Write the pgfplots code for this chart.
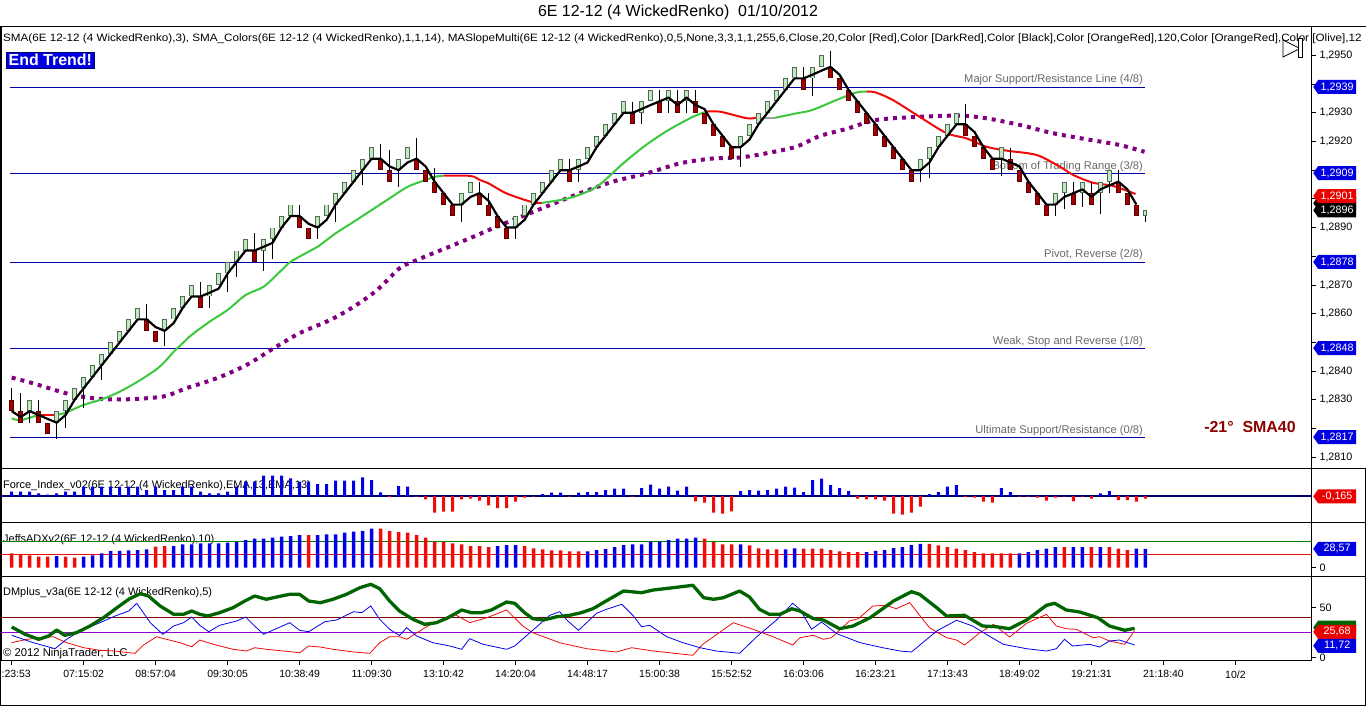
\documentclass[border=0pt]{standalone}
\usepackage{fontspec}
\setmainfont{Liberation Sans}
\usepackage{pgfplots}
\pgfplotsset{compat=1.18}
\usetikzlibrary{shapes.symbols}
\definecolor{navyl}{RGB}{0,0,170}
\definecolor{navyz}{RGB}{0,0,110}
\definecolor{candG}{RGB}{195,230,195}
\definecolor{candGo}{RGB}{80,110,80}
\definecolor{candR}{RGB}{165,0,0}
\definecolor{candRo}{RGB}{90,0,0}
\definecolor{smaG}{RGB}{60,200,60}
\definecolor{smaR}{RGB}{240,10,10}
\definecolor{smaY}{RGB}{160,160,160}
\definecolor{purp}{RGB}{128,0,128}
\definecolor{fblue}{RGB}{0,0,235}
\definecolor{fred}{RGB}{240,10,10}
\definecolor{dmgreen}{RGB}{0,100,0}
\definecolor{tagblue}{RGB}{0,0,225}
\definecolor{tagred}{RGB}{235,0,0}
\definecolor{dkred}{RGB}{140,0,0}
\definecolor{labgray}{RGB}{105,105,105}
\definecolor{lvl40}{RGB}{128,0,0}
\definecolor{lvl25}{RGB}{150,0,210}
\definecolor{adxg}{RGB}{0,128,0}
\pgfplotsset{
  panel/.style={scale only axis, width=1310bp, xmin=-1.19, xmax=144.4,
    axis line style={line width=1bp}, xtick=\empty, clip=true,
    ytick pos=right, yticklabel pos=right, tick align=outside,
    major tick length=5bp, tick style={black, line width=0.8bp},
    ticklabel style={font=\fontsize{10.8}{12}\selectfont},
    /pgf/number format/assume math mode=true, anchor=north west},
  brick/.style={draw=none, mark=none, forget plot, error bars/y dir=both, error bars/error mark=none},
}
\tikzset{
  tag/.style={signal, signal to=west, signal pointer angle=110, text=white,
    font=\fontsize{10.8}{12}\selectfont, inner xsep=2bp, inner ysep=1bp,
    minimum height=14bp, minimum width=43bp, anchor=west},
}
\begin{document}
\begin{tikzpicture}
\useasboundingbox (0,0) rectangle (1366bp,-706bp);
\fill[white] (0,0) rectangle (1366bp,-706bp);
% texts behind panels
\node[font=\fontsize{16}{18}\selectfont, inner sep=0] at (678bp,-12bp) {6E 12-12 (4 WickedRenko)\ \ 01/10/2012};
\node[anchor=west, font=\fontsize{10.7}{12}\selectfont, inner sep=0] at (3bp,-38.5bp) {\scalebox{1.094}[1]{SMA(6E 12-12 (4 WickedRenko),3), SMA\_Colors(6E 12-12 (4 WickedRenko),1,1,14), MASlopeMulti(6E 12-12 (4 WickedRenko),0,5,None,3,3,1,1,255,6,Close,20,Color [Red],Color [DarkRed],Color [Black],Color [OrangeRed],120,Color [OrangeRed],Color [Olive],12}};
\node[anchor=west, font=\fontsize{11}{12}\selectfont, inner sep=0] at (3bp,-486bp) {Force\_Index\_v02(6E 12-12 (4 WickedRenko),EMA,13,EMA,13)};
\node[anchor=west, font=\fontsize{11}{12}\selectfont, inner sep=0] at (3bp,-540bp) {JeffsADXv2(6E 12-12 (4 WickedRenko),10)};
\node[anchor=west, font=\fontsize{11}{12}\selectfont, inner sep=0] at (3bp,-593bp) {DMplus\_v3a(6E 12-12 (4 WickedRenko),5)};
\node[anchor=west, font=\fontsize{11.3}{12}\selectfont, inner sep=0] at (3bp,-654bp) {\textcopyright\ 2012 NinjaTrader, LLC};

% ================= MAIN PRICE PANEL =================
\begin{axis}[panel, at={(1bp,-26bp)}, height=442bp, ymin=1.28062, ymax=1.296025,
  ytick={1.281,1.282,1.283,1.284,1.285,1.286,1.287,1.288,1.289,1.290,1.291,1.292,1.293,1.294,1.295},
  yticklabels={1{,}2810,,1{,}2830,1{,}2840,,1{,}2860,1{,}2870,,1{,}2890,,,1{,}2920,1{,}2930,,1{,}2950}]
\addplot[navyl, line width=0.9bp] coordinates {(-0.2,1.2939)(125.9,1.2939)};
\addplot[navyl, line width=0.9bp] coordinates {(-0.2,1.2909)(125.9,1.2909)};
\addplot[navyl, line width=0.9bp] coordinates {(-0.2,1.2878)(125.9,1.2878)};
\addplot[navyl, line width=0.9bp] coordinates {(-0.2,1.2848)(125.9,1.2848)};
\addplot[navyl, line width=0.9bp] coordinates {(-0.2,1.2817)(125.9,1.2817)};
\node[anchor=south east, text=labgray, font=\fontsize{11.2}{12}\selectfont, inner sep=1.5bp] at (axis cs:125.9,1.2939) {Major Support/Resistance Line (4/8)};
\node[anchor=south east, text=labgray, font=\fontsize{11.2}{12}\selectfont, inner sep=1.5bp] at (axis cs:125.9,1.2909) {Bottom of Trading Range (3/8)};
\node[anchor=south east, text=labgray, font=\fontsize{11.2}{12}\selectfont, inner sep=1.5bp] at (axis cs:125.9,1.2878) {Pivot, Reverse (2/8)};
\node[anchor=south east, text=labgray, font=\fontsize{11.2}{12}\selectfont, inner sep=1.5bp] at (axis cs:125.9,1.2848) {Weak, Stop and Reverse (1/8)};
\node[anchor=south east, text=labgray, font=\fontsize{11.2}{12}\selectfont, inner sep=1.5bp] at (axis cs:125.9,1.2817) {Ultimate Support/Resistance (0/8)};
\addplot[purp, line width=4bp, dash pattern=on 4bp off 5bp, smooth] coordinates {
(0,1.28377)(2.4,1.28357)(6.1,1.28322)(9.1,1.28305)(12.4,1.28301)(16.8,1.28311)(19.4,1.2834)(22.8,1.28375)(26.1,1.28421)(29.1,1.28479)(32,1.28532)(35.4,1.28578)(38,1.28624)(40.6,1.28682)(43.1,1.28758)(44.6,1.28781)(46.8,1.2881)(49.1,1.28839)(51.3,1.28868)(53.9,1.28903)(55.7,1.28926)(59.4,1.28973)(63.1,1.29019)(66.8,1.2906)(70.6,1.29089)(74.3,1.29124)(78,1.29141)(80.9,1.29144)(83.9,1.29159)(87.2,1.29182)(89.8,1.29219)(92.8,1.29244)(96.1,1.29275)(100.9,1.29286)(105.4,1.2929)(108.3,1.29281)(112,1.29258)(115.7,1.29229)(119.4,1.29208)(123.1,1.29188)(125.9,1.29164)};
\addplot[smaG, line width=2bp, smooth] coordinates {(0,1.28235)(1,1.28229)(3,1.28247)};
\addplot[smaR, line width=2bp] coordinates {(3,1.28247)(5,1.28247)};
\addplot[smaG, line width=2bp, smooth] coordinates {(5,1.28247)(6,1.28255)(8,1.28282)(10,1.28301)(12,1.28328)(14,1.28363)(16,1.28404)(17,1.28432)(18,1.28467)(19,1.28497)(20,1.28526)(22,1.28572)(24,1.28613)(26,1.28665)(28,1.28694)(30,1.28752)(31,1.28781)(33,1.28816)(34,1.28833)(36,1.2888)(38,1.2892)(40,1.28961)(42,1.29002)(44,1.29042)(46,1.29066)(47,1.29077)(48,1.29081)};
\addplot[smaR, line width=2bp, smooth] coordinates {(48,1.29081)(51,1.2908)(52,1.29066)(53,1.29054)(55,1.29019)(58,1.28987)(58.9,1.28986)};
\addplot[smaG, line width=2bp, smooth] coordinates {(58.9,1.28986)(62,1.29003)(65,1.29042)(68,1.29125)(70.5,1.29188)(73,1.2924)(75.7,1.29286)(77.2,1.29304)};
\addplot[smaR, line width=2bp, smooth] coordinates {(77.2,1.29304)(78.7,1.29304)(81.7,1.29281)(82.7,1.29283)};
\addplot[smaY, line width=2bp] coordinates {(82.7,1.29283)(84.9,1.29283)};
\addplot[smaG, line width=2bp, smooth] coordinates {(84.9,1.29283)(87.2,1.29298)(89,1.2931)(92,1.29349)(93.9,1.29371)(95,1.29374)};
\addplot[smaR, line width=2bp, smooth] coordinates {(95,1.29374)(96,1.29371)(97.9,1.29345)(100.9,1.29286)(103.9,1.29229)(106.1,1.29211)(108.3,1.29182)(110.6,1.29168)(113.9,1.29153)(116.5,1.29112)(118,1.29083)(120.2,1.29056)(122.4,1.29045)(124.9,1.29017)};
% wicks
\addplot[draw=none, mark=none, forget plot, error bars/y dir=plus, error bars/y explicit, error bars/error mark=none, error bars/error bar style={line width=1bp, draw=black}] table[x=x, y=lo, y error=dy] {
x lo dy
0 1.2826 0.0008
1 1.2822 0.00104
2 1.2822 0.0008
3 1.2822 0.0008
5 1.28164 0.00096
6 1.2820 0.0010
8 1.28272 0.00108
10 1.28368 0.00092
15 1.2854 0.00092
17 1.28488 0.00092
21 1.2862 0.00092
22 1.2862 0.0008
24 1.28676 0.00104
25 1.28728 0.00092
27 1.2878 0.0010
28 1.28748 0.00112
29 1.28792 0.00108
32 1.2890 0.0008
34 1.2886 0.0008
36 1.2892 0.0010
39 1.29048 0.00092
41 1.2910 0.00092
42 1.2906 0.00112
43 1.2904 0.0010
45 1.2910 0.00112
47 1.2902 0.00088
50 1.2892 0.0010
52 1.2898 0.0008
53 1.2894 0.0008
56 1.2886 0.0008
62 1.2906 0.0008
63 1.2906 0.0008
69 1.2926 0.00076
70 1.2926 0.0008
72 1.2930 0.0008
73 1.2930 0.0008
74 1.2930 0.0008
75 1.2930 0.0008
76 1.2930 0.0008
81 1.29112 0.00108
88 1.2938 0.0008
89 1.2936 0.0010
91 1.2942 0.00096
101 1.2906 0.0008
102 1.29072 0.00108
106 1.2922 0.00112
110 1.2908 0.0010
111 1.2910 0.00076
116 1.2894 0.0008
117 1.28964 0.00096
118 1.2898 0.0008
119 1.28972 0.00088
120 1.2898 0.0008
121 1.28948 0.00112
122 1.2902 0.0008
123 1.2902 0.0008
126 1.2892 0.0004
};
\pgfplotstableread{
x mid
2 1.2828
5 1.2824
6 1.2828
7 1.2832
8 1.2836
9 1.2840
10 1.2844
11 1.2848
12 1.2852
13 1.2856
14 1.2860
17 1.2856
18 1.2860
19 1.2864
20 1.2868
22 1.2868
23 1.2872
24 1.2876
25 1.2880
26 1.2884
28 1.2884
29 1.2888
30 1.2892
31 1.2896
34 1.2892
35 1.2896
36 1.2900
37 1.2904
38 1.2908
39 1.2912
40 1.2916
43 1.2912
44 1.2916
50 1.2900
51 1.2904
56 1.2892
57 1.2896
58 1.2900
59 1.2904
60 1.2908
61 1.2912
63 1.2912
64 1.2916
65 1.2920
66 1.2924
67 1.2928
68 1.2932
70 1.2932
71 1.2936
73 1.2936
75 1.2936
81 1.2920
82 1.2924
83 1.2928
84 1.2932
85 1.2936
86 1.2940
87 1.2944
89 1.2944
90 1.2948
101 1.2912
102 1.2916
103 1.2920
104 1.2924
105 1.2928
110 1.2916
116 1.2900
117 1.2904
119 1.2904
121 1.2904
122 1.2908
}\greenbricks
\pgfplotstableread{
x mid
0 1.2828
1 1.2824
3 1.2824
4 1.2820
15 1.2856
16 1.2852
21 1.2864
27 1.2880
32 1.2892
33 1.2888
41 1.2912
42 1.2908
45 1.2912
46 1.2908
47 1.2904
48 1.2900
49 1.2896
52 1.2900
53 1.2896
54 1.2892
55 1.2888
62 1.2908
69 1.2928
72 1.2932
74 1.2932
76 1.2932
77 1.2928
78 1.2924
79 1.2920
80 1.2916
88 1.2940
91 1.2944
92 1.2940
93 1.2936
94 1.2932
95 1.2928
96 1.2924
97 1.2920
98 1.2916
99 1.2912
100 1.2908
106 1.2924
107 1.2920
108 1.2916
109 1.2912
111 1.2912
112 1.2908
113 1.2904
114 1.2900
115 1.2896
118 1.2900
120 1.2900
123 1.2904
124 1.2900
125 1.2896
}\redbricks
\addplot[brick, error bars/y fixed=0.0002, error bars/error bar style={line width=5bp, draw=candGo}] table[x=x,y=mid] {\greenbricks};
\addplot[brick, error bars/y fixed=0.00017, error bars/error bar style={line width=3bp, draw=candG}] table[x=x,y=mid] {\greenbricks};
\addplot[brick, error bars/y fixed=0.0002, error bars/error bar style={line width=5bp, draw=candRo}] table[x=x,y=mid] {\redbricks};
\addplot[brick, error bars/y fixed=0.00017, error bars/error bar style={line width=3bp, draw=candR}] table[x=x,y=mid] {\redbricks};
\addplot[brick, error bars/y fixed=0.0001, error bars/error bar style={line width=4bp, draw=candGo}] coordinates {(126,1.2895)};
\addplot[brick, error bars/y fixed=0.00007, error bars/error bar style={line width=2bp, draw=candG}] coordinates {(126,1.2895)};
\addplot[black, line width=2.2bp, line join=round] coordinates {
(0,1.2826)(1,1.2824)(2,1.2826)(3,1.28247)(4,1.28233)(5,1.2822)(6,1.28247)(7,1.2830)(8,1.2834)(9,1.2838)
(10,1.2842)(11,1.2846)(12,1.2850)(13,1.2854)(14,1.2858)(15,1.2858)(16,1.28553)(17,1.2854)(18,1.28567)(19,1.2862)
(20,1.2866)(21,1.2866)(22,1.28673)(23,1.28687)(24,1.2874)(25,1.2878)(26,1.2882)(27,1.2882)(28,1.28833)(29,1.28847)
(30,1.2890)(31,1.2894)(32,1.2894)(33,1.28913)(34,1.2890)(35,1.28927)(36,1.2898)(37,1.2902)(38,1.2906)(39,1.2910)
(40,1.2914)(41,1.2914)(42,1.29113)(43,1.2910)(44,1.29127)(45,1.2914)(46,1.29113)(47,1.2906)(48,1.2902)(49,1.2898)
(50,1.2898)(51,1.29007)(52,1.2902)(53,1.28993)(54,1.2894)(55,1.2890)(56,1.2890)(57,1.28927)(58,1.2898)(59,1.2902)
(60,1.2906)(61,1.2910)(62,1.2910)(63,1.29113)(64,1.29127)(65,1.2918)(66,1.2922)(67,1.2926)(68,1.2930)(69,1.2930)
(70,1.29313)(71,1.29327)(72,1.2934)(73,1.29353)(74,1.29327)(75,1.29353)(76,1.29327)(77,1.29313)(78,1.2926)(79,1.2922)
(80,1.2918)(81,1.2918)(82,1.29207)(83,1.2926)(84,1.2930)(85,1.2934)(86,1.2938)(87,1.2942)(88,1.2942)(89,1.29433)
(90,1.29447)(91,1.2946)(92,1.29433)(93,1.2938)(94,1.2934)(95,1.2930)(96,1.2926)(97,1.2922)(98,1.2918)(99,1.2914)
(100,1.2910)(101,1.2910)(102,1.29127)(103,1.2918)(104,1.2922)(105,1.2926)(106,1.2926)(107,1.29233)(108,1.2918)(109,1.2914)
(110,1.2914)(111,1.29127)(112,1.29113)(113,1.2906)(114,1.2902)(115,1.2898)(116,1.2898)(117,1.29007)(118,1.2902)(119,1.29033)
(120,1.29007)(121,1.29033)(122,1.29047)(123,1.2906)(124,1.29033)(125,1.2898)};
\coordinate (t1) at (axis cs:144.4,1.2939);
\coordinate (t2) at (axis cs:144.4,1.2909);
\coordinate (t3) at (axis cs:144.4,1.2878);
\coordinate (t4) at (axis cs:144.4,1.2848);
\coordinate (t5) at (axis cs:144.4,1.2817);
\coordinate (t6) at (axis cs:144.4,1.2901);
\coordinate (t7) at (axis cs:144.4,1.2896);
\coordinate (t8) at (axis cs:144.4,1.28985);
\end{axis}

% ================= FORCE INDEX =================
\begin{axis}[panel, at={(1bp,-468bp)}, height=54bp, ymin=-26, ymax=28, ytick=\empty]
\addplot[navyz, line width=2.6bp] coordinates {(-1.19,0)(144.4,0)};
\addplot[ybar, bar shift=0pt, bar width=3bp, fill=fblue, draw=none] coordinates {
(0,4.3)(1,4.3)(2,4.3)(3,2.7)(4,1.5)(5,2.7)(6,4.3)(7,4.3)(8,9.3)(9,9.3)(10,9.3)(11,9.3)(12,9.3)(13,9.3)(14,9.3)(15,6)(16,9.3)(17,6)(18,6)(19,9.3)(20,9.3)(21,4.3)(22,2.7)(23,2.7)(24,4.3)(25,9.3)(26,14.3)(27,14.3)(28,20.3)(29,20.3)(30,20.3)(31,17.7)(32,14.3)(33,14.3)(34,12)(35,12)(36,15.3)(37,15.3)(38,15.3)(39,18.7)(40,16)(41,3.7)(43,10)(44,9.3)(59,2)(60,3.3)(61,3.3)(63,3.3)(64,4)(65,4)(66,6)(67,7.3)(68,7.3)(70,8)(71,11.3)(72,7.3)(73,9.3)(74,5.3)(75,9.3)(81,5)(82,6)(83,5.3)(84,6)(85,7.3)(86,9.3)(87,8.3)(88,4)(89,16)(90,17.3)(91,11)(92,8)(93,5)(102,2)(103,4)(104,9.3)(105,11)(110,8)(111,4)(121,2.7)(122,5)};
\addplot[ybar, bar shift=0pt, bar width=3bp, fill=fred, draw=none] coordinates {
(42,-1)(45,-0.7)(46,-3.3)(47,-16.7)(48,-15.7)(49,-15.7)(50,-3.3)(51,-2.7)(52,-4.7)(53,-9.3)(54,-12)(55,-12)(56,-5.7)(57,-1.7)(58,-0.5)(62,-0.5)(69,-0.5)(76,-5.3)(77,-6.7)(78,-16.7)(79,-17.7)(80,-15.3)(94,-2.7)(95,-3.3)(96,-3.3)(97,-4.7)(98,-17.7)(99,-18.7)(100,-16.7)(101,-10.7)(106,-1)(107,-1.7)(108,-5.7)(109,-6.7)(112,-0.7)(113,-0.7)(114,-1.7)(115,-4.7)(116,-1.7)(117,-0.3)(118,-5.3)(119,-0.7)(120,-2.7)(123,-4)(124,-4)(125,-5.7)(126,-2.7)};
\coordinate (f1) at (axis cs:144.4,-0.3);
\end{axis}

% ================= JEFFS ADX =================
\begin{axis}[panel, at={(1bp,-522bp)}, height=54bp, ymin=-12.6, ymax=69.2, ytick={0}]
\addplot[adxg, line width=0.9bp] coordinates {(-1.19,40)(144.4,40)};
\addplot[smaR, line width=0.9bp] coordinates {(-1.19,20)(144.4,20)};
\addplot[ybar, bar shift=0pt, bar width=3.5bp, fill=fblue, draw=none] coordinates {
(5,17.7)(8,16.7)(9,18.8)(10,21.8)(11,25.3)(12,25.3)(13,26.3)(14,26.8)(15,27.8)(18,32.8)(19,35.4)(20,35.4)(21,36.9)(22,36.9)(23,36.9)(24,37.9)(25,38.9)(26,41.9)(27,44)(28,44)(29,45.5)(30,47)(31,48)(32,49.5)(34,49.5)(35,50.6)(36,50.6)(37,53)(38,54.5)(39,55.6)(40,59.1)(54,32.8)(55,34.3)(56,34.3)(64,24.8)(65,26.8)(66,28.3)(67,31.3)(68,34.3)(69,35.4)(70,35.4)(71,39.4)(72,39.4)(73,41.9)(74,44)(75,44)(76,45.5)(81,35.4)(86,27.8)(87,29.3)(95,23.7)(96,25.3)(97,26.8)(98,29.8)(99,31.3)(100,34.3)(101,35.9)(112,21.8)(113,23.7)(114,26.8)(115,28.8)(116,31.3)(118,31.3)(119,31.3)(121,31.3)(125,28.8)(126,28.57)};
\addplot[ybar, bar shift=0pt, bar width=3.5bp, fill=fred, draw=none] coordinates {
(0,21.8)(1,20.3)(2,18.8)(3,16.7)(4,16.7)(6,16.7)(7,15.2)(16,31.8)(17,32.8)(33,49.5)(41,59.1)(42,55.6)(43,54)(44,53)(45,49.5)(46,45.5)(47,39.4)(48,38.9)(49,36.9)(50,35.4)(51,32.8)(52,32.8)(53,31.3)(57,32.8)(58,29.3)(59,27.8)(60,26.3)(61,26.3)(62,24.8)(63,24.8)(77,44)(78,38.9)(79,35.4)(80,35.4)(82,33.8)(83,29.3)(84,27.8)(85,27.8)(88,28.8)(89,28.8)(90,28.8)(91,26.8)(92,24.8)(93,23.7)(94,23.7)(102,35.9)(103,33.8)(104,31.3)(105,28.8)(106,26.8)(107,23.7)(108,21.8)(109,21.8)(110,21.8)(111,21.8)(117,31.3)(120,31.3)(122,31.3)(123,28.8)(124,26.8)};
\coordinate (a1) at (axis cs:144.4,28.57);
\end{axis}

% ================= DM PLUS =================
\begin{axis}[panel, at={(1bp,-576bp)}, height=84bp, ymin=-2.5, ymax=81.5, ytick={0,50},
  xtick={0,8,...,136}, xtick pos=bottom, xticklabel pos=bottom,
  xticklabels={\hbox to 0pt{\hskip-10bp :23:53\hss},07:15:02,08:57:04,09:30:05,10:38:49,11:09:30,13:10:42,14:20:04,14:48:17,15:00:38,15:52:52,16:03:06,16:23:21,17:13:43,18:49:02,19:21:31,21:18:40,10/2},
  xticklabel style={yshift=-2bp, font=\fontsize{10.5}{12}\selectfont}]
\addplot[lvl40, line width=0.9bp] coordinates {(-1.19,40)(144.4,40)};
\addplot[lvl25, line width=0.9bp] coordinates {(-1.19,25)(144.4,25)};
\addplot[fred, line width=0.8bp] coordinates {
(0,14.8)(1.7,18.2)(3.3,19.8)(4.6,20.8)(6.1,14.8)(8.0,9.8)(9.8,7.2)(11.5,6.5)(13.0,4.8)(13.7,4.2)(14.6,12.2)(16.1,20.8)(17.2,18.2)(18.7,14.8)(20.0,10.8)(20.9,17.5)(22.4,13.2)(24.6,8.2)(26.1,6.5)(27.0,9.8)(28.3,8.2)(30.2,6.5)(32.0,4.8)(33.0,11.5)(34.3,10.5)(35.7,8.2)(38.0,5.5)(39.8,4.2)(40.9,14.8)(42.0,20.8)(43.1,20.8)(43.9,18.2)(46.1,30.8)(49.1,43.8)(50.9,34.8)(52.8,39.8)(55.0,47.5)(56.8,31.5)(57.9,24.8)(60.9,14.8)(63.9,8.8)(67.2,5.5)(68.9,9.8)(71.3,6.5)(75.7,2.2)(76.8,13.2)(80.2,34.8)(82.4,28.2)(84.6,20.8)(86.8,12.5)(87.6,19.8)(89.1,22.2)(90.2,18.2)(91.1,19.8)(93.1,36.5)(94.1,38.8)(95.7,51.5)(97.2,52.2)(98.3,48.8)(99.8,54.8)(102.0,29.8)(103.9,19.8)(105.0,17.5)(105.9,12.5)(107.6,24.8)(109.1,33.2)(110.9,20.5)(112.8,34.2)(115.0,43.2)(116.1,31.5)(117.2,28.8)(118.3,28.2)(120.2,19.8)(120.9,20.8)(122.0,16.5)(123.7,13.2)(124.8,26.8)};
\addplot[fblue, line width=0.8bp] coordinates {
(0,22.2)(2.4,14.8)(4.8,8.8)(6.1,18.2)(7.6,26.5)(9.8,34.8)(11.5,41.5)(13.0,46.5)(13.9,54.2)(15.4,34.8)(16.8,23.2)(18.0,31.5)(19.1,34.8)(20.0,40.5)(20.9,32.2)(21.9,25.8)(23.1,32.2)(25.0,36.5)(26.0,40.5)(27.0,31.5)(28.0,23.2)(29.4,28.8)(30.9,34.8)(32.0,27.2)(33.0,25.8)(34.8,35.8)(36.1,37.5)(38.0,45.8)(38.9,44.8)(39.9,51.5)(40.9,38.2)(42.0,28.2)(43.1,22)(43.9,29.8)(45.0,21.5)(46.8,14.8)(48.7,11.5)(50.0,8.2)(50.9,18.8)(52.4,13.2)(55.0,8.2)(55.9,11.5)(57.9,27.2)(59.8,42.2)(60.9,45.8)(61.8,36.5)(63.0,27.2)(65.0,44.2)(66.1,48.2)(67.8,53.2)(69.1,41.5)(70.0,30.8)(70.9,32.2)(72.8,20.8)(74.6,14.8)(76.5,9.8)(78.3,6.5)(80.9,4.2)(82.8,20.8)(85.0,37.5)(86.8,54.2)(87.6,48.2)(88.9,28.2)(90.0,35.5)(91.7,23.8)(94.3,14.8)(96.8,9.8)(98.7,6.5)(100.0,5.5)(102.8,26.5)(105.0,37.2)(106.8,31.5)(108.3,23.2)(110.2,13.2)(112.8,8.8)(115.0,6.5)(116.1,8.8)(117.0,18.2)(117.9,11.5)(119.8,13.2)(120.9,10.5)(122.0,16.5)(123.1,17.5)(124.8,12.5)};
\addplot[dmgreen, line width=3.3bp, line join=round] coordinates {
(0,30.5)(1.5,23.2)(3.0,18.2)(4.1,21.5)(5.0,27.5)(5.9,22.2)(7.2,24.8)(8.7,31.5)(10.2,39.8)(11.7,49.8)(13.1,58.8)(14.3,63.8)(15.2,61.5)(16.5,51.5)(18.0,43.2)(19.1,43.2)(20.0,46.5)(20.9,43.2)(21.8,41.5)(23.1,44.8)(24.6,49.8)(25.9,56.5)(27.0,61.5)(28.3,58.2)(29.6,60.8)(30.9,63.2)(32.0,63.2)(33.0,56.5)(34.3,54.8)(35.7,58.2)(37.2,63.2)(38.7,69.8)(39.9,73.2)(40.9,68.8)(42.0,56.5)(43.1,46.5)(44.6,38.2)(45.9,33.2)(47.2,34.8)(48.5,39.8)(50.0,47.5)(51.1,44.8)(52.2,44.8)(53.3,47.5)(55.0,55.5)(55.9,54.2)(57.0,44.8)(57.9,38.8)(59.1,37.5)(60.6,40.8)(62.0,42.2)(63.3,44.8)(64.6,48.8)(66.5,58.8)(68.0,66.5)(70.0,64.8)(71.3,67.5)(73.5,69.8)(75.7,72.2)(76.9,59.8)(78.0,58.2)(79.1,59.8)(80.9,66.5)(82.0,60.5)(83.1,48.2)(84.2,43.2)(85.4,43.2)(86.7,48.8)(87.6,46.5)(89.1,38.8)(90.2,37.5)(92.0,28.8)(93.5,31.5)(95.4,39.8)(98.0,56.5)(100.0,65.8)(100.9,63.2)(102.8,49.8)(103.9,41.5)(105.9,42.2)(107.9,31.5)(109.4,30.8)(110.9,28.8)(112.8,37.5)(115.0,52.2)(115.9,54.2)(117.2,47.5)(118.7,45.5)(120.7,39.8)(122.0,31.5)(123.7,27.2)(124.8,29.2)};
\coordinate (d1) at (axis cs:144.4,30);
\coordinate (d2) at (axis cs:144.4,25.68);
\coordinate (d3) at (axis cs:144.4,11.72);
\end{axis}

% ================= frame & separators =================
\draw[black, line width=1bp] (0.5bp,-26bp) -- (0.5bp,-705.5bp) -- (1365.5bp,-705.5bp) -- (1365.5bp,-468bp);
\draw[black, line width=1bp] (1311bp,-26bp) -- (1366bp,-26bp);
\draw[black, line width=1bp] (1311bp,-468bp) -- (1366bp,-468bp);
\draw[black, line width=1bp] (1311bp,-522bp) -- (1366bp,-522bp);
\draw[black, line width=1bp] (1311bp,-576bp) -- (1366bp,-576bp);

% ================= tags =================
\node[tag, fill=tagblue] at ([xshift=2bp]t1) {1,2939};
\node[tag, fill=tagblue] at ([xshift=2bp]t2) {1,2909};
\node[tag, fill=tagblue] at ([xshift=2bp]t3) {1,2878};
\node[tag, fill=tagblue] at ([xshift=2bp]t4) {1,2848};
\node[tag, fill=tagblue] at ([xshift=2bp]t5) {1,2817};
\node[tag, fill=black] at ([xshift=2bp]t8) {};
\node[tag, fill=black] at ([xshift=2bp]t7) {1,2896};
\node[tag, fill=tagred] at ([xshift=2bp]t6) {1,2901};
\node[tag, fill=tagred] at ([xshift=2bp]f1) {-0,165};
\node[tag, fill=tagblue] at ([xshift=2bp]a1) {28,57};
\node[tag, fill=dmgreen] at ([xshift=2bp]d1) {};
\node[tag, fill=tagred] at ([xshift=2bp]d2) {25,68};
\node[tag, fill=tagblue] at ([xshift=2bp]d3) {11,72};

% ================= annotations =================
\node[anchor=north west, fill=tagblue, draw=navyz, text=white, font=\bfseries\fontsize{16}{18}\selectfont, inner xsep=2.5bp, inner ysep=2bp] at (6bp,-52bp) {End Trend!};
\node[text=dkred, font=\bfseries\fontsize{16}{18}\selectfont, inner sep=0] at (1250bp,-427bp) {-21°\ \ SMA40};
\draw[black, fill=white, line width=0.8bp] (1283bp,-40bp) -- (1300bp,-48.5bp) -- (1283bp,-57bp) -- cycle;
\draw[black, fill=white, line width=0.8bp] (1298bp,-38bp) rectangle (1302bp,-57bp);
\end{tikzpicture}
\end{document}
